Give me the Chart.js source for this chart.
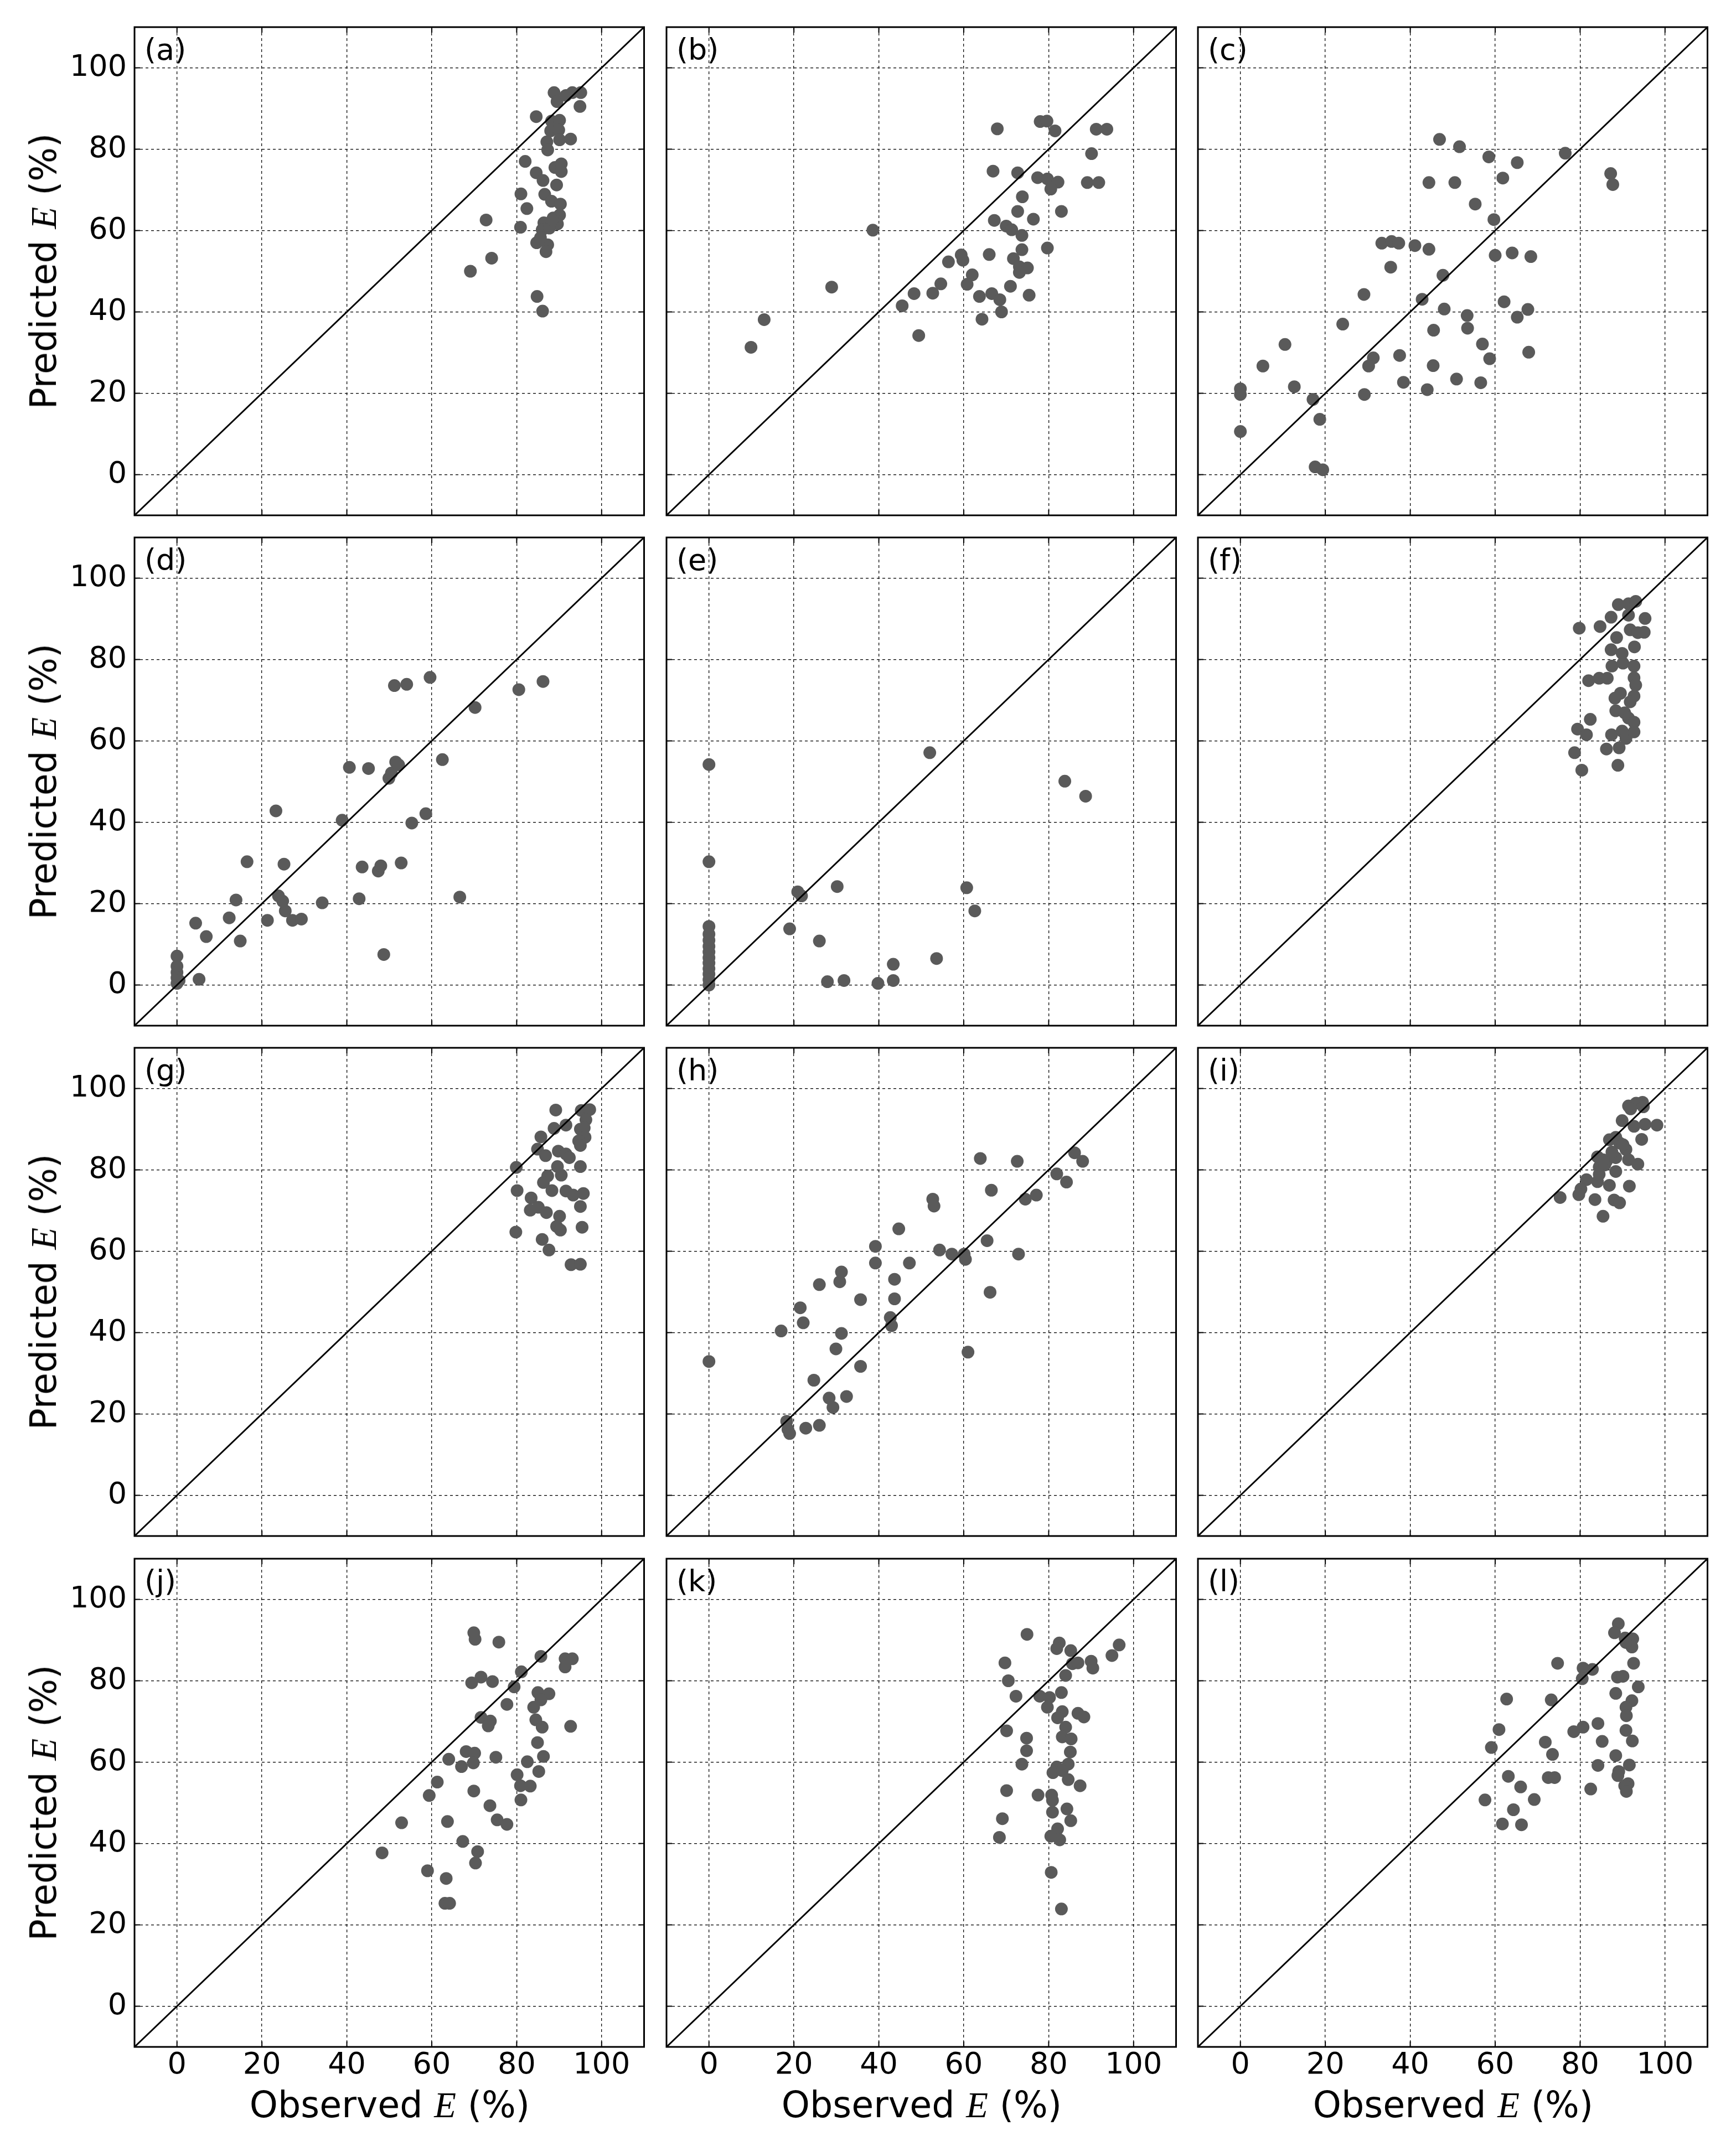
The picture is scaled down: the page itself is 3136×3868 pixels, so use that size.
<!DOCTYPE html>
<html>
<head>
<meta charset="utf-8">
<script src="https://cdn.jsdelivr.net/npm/chart.js@4.4.1/dist/chart.umd.min.js"></script>
<style>
  html, body { margin: 0; padding: 0; background: #fff; }
  body { width: 3136px; height: 3868px; position: relative; overflow: hidden; }
  canvas { position: absolute; }
  .axis-title {
    position: absolute; font-family: 'DejaVu Sans'; font-size: 65px; line-height: 1;
    white-space: nowrap; color: #000; transform: translate(-50%, -50%);
  }
  .axis-title.y { transform: translate(-50%, -50%) rotate(-90deg); }
  .axis-title i { font-family: 'Liberation Serif'; font-style: italic; }
</style>
</head>
<body>
<script>
// axis settings shared by all panels
const axisMin = -10, axisMax = 110;
const tickValues = [0, 20, 40, 60, 80, 100];
const panelLabels = ['(a)', '(b)', '(c)', '(d)', '(e)', '(f)', '(g)', '(h)', '(i)', '(j)', '(k)', '(l)'];

// observed / predicted E (%) for each panel
const obsA = [88.8, 89.5, 91.6, 93.1, 95.1, 94.9, 84.6, 88.2, 90.1, 88.0, 89.9, 87.1, 90.1, 92.7, 87.3, 82.0, 89.0, 90.5, 90.5, 84.6, 86.2, 89.4, 81.0, 86.6, 88.2, 90.3, 82.4, 90.1, 88.6, 89.6, 72.8, 80.9, 86.4, 86.0, 87.7, 84.7, 87.3, 86.9, 74.1, 69.1, 84.8, 86.1, 85.6, 88.4];
const predA = [93.9, 91.7, 93.2, 93.9, 93.9, 90.5, 88.0, 86.9, 87.1, 84.5, 84.7, 81.8, 82.3, 82.5, 79.8, 77.0, 75.5, 76.4, 74.5, 74.2, 72.3, 71.2, 69.0, 68.9, 67.2, 66.5, 65.4, 63.8, 63.1, 61.6, 62.6, 60.8, 61.9, 60.2, 60.6, 57.0, 56.5, 54.8, 53.2, 50.0, 43.8, 40.2, 58.2, 62.6];

const obsB = [67.9, 78.0, 79.6, 81.5, 91.2, 93.7, 90.1, 66.9, 72.7, 77.4, 79.7, 82.2, 80.5, 89.1, 91.8, 73.8, 72.7, 76.4, 83.0, 67.2, 70.0, 71.3, 73.7, 38.6, 79.7, 73.7, 66.0, 59.4, 59.8, 56.4, 71.7, 73.1, 75.0, 73.1, 62.0, 60.8, 54.6, 52.7, 48.3, 45.5, 71.0, 66.6, 63.7, 68.5, 75.4, 68.9, 64.3, 28.9, 49.4, 13.0, 9.9];
const predB = [85.0, 86.8, 86.9, 84.5, 84.9, 84.9, 78.9, 74.6, 74.2, 73.0, 72.7, 71.9, 70.2, 71.8, 71.8, 68.3, 64.7, 62.8, 64.7, 62.5, 61.1, 60.2, 58.8, 60.1, 55.7, 55.3, 54.1, 54.0, 52.7, 52.3, 53.1, 51.1, 50.8, 49.7, 49.1, 46.8, 46.9, 44.6, 44.5, 41.5, 46.3, 44.5, 43.8, 43.0, 44.1, 40.0, 38.2, 46.1, 34.2, 38.1, 31.3];

const obsC = [46.9, 51.6, 58.5, 65.2, 76.5, 87.2, 87.7, 44.4, 50.5, 61.8, 55.3, 59.7, 33.3, 35.6, 37.3, 41.1, 44.4, 35.4, 60.0, 64.0, 68.4, 47.7, 29.1, 42.8, 48.0, 62.1, 67.7, 65.2, 53.4, 53.5, 24.1, 45.5, 57.0, 67.9, 10.5, 5.3, 31.3, 30.2, 37.5, 58.7, 45.4, 12.7, 38.4, 50.9, 56.6, 44.0, 0, 0, 29.2, 17.1, 18.7, 0, 17.6, 19.4];
const predC = [82.4, 80.6, 78.1, 76.7, 79.0, 74.0, 71.3, 71.8, 71.8, 72.9, 66.5, 62.7, 56.9, 57.3, 56.9, 56.3, 55.4, 51.0, 53.9, 54.5, 53.6, 49.0, 44.3, 43.1, 40.7, 42.5, 40.6, 38.7, 39.1, 36.0, 37.0, 35.5, 32.1, 30.1, 32.0, 26.7, 28.7, 26.7, 29.3, 28.5, 26.8, 21.6, 22.7, 23.5, 22.6, 20.9, 21.1, 19.7, 19.7, 18.5, 13.6, 10.6, 1.9, 1.2];

const obsD = [0, 0, 0, 0, 0, 0.5, 5.2, 4.4, 6.9, 12.3, 13.9, 14.9, 16.5, 21.3, 23.3, 23.9, 24.9, 25.2, 25.5, 27.2, 29.3, 34.2, 38.9, 40.6, 42.9, 43.6, 45.1, 47.4, 48.0, 48.7, 49.9, 50.5, 51.5, 52.2, 51.2, 54.1, 52.8, 55.3, 58.6, 59.6, 62.5, 66.6, 70.2, 80.5, 86.2];
const predD = [7.1, 4.6, 3.1, 1.8, 0.4, 1.1, 1.4, 15.2, 11.9, 16.5, 20.9, 10.8, 30.3, 15.9, 42.8, 21.9, 20.6, 29.7, 18.2, 15.9, 16.2, 20.2, 40.5, 53.5, 21.2, 29.0, 53.2, 28.0, 29.3, 7.5, 50.8, 52.1, 54.8, 54.1, 73.6, 73.9, 30.0, 39.8, 42.1, 75.6, 55.4, 21.6, 68.2, 72.6, 74.6];

const obsE = [0, 0, 0, 0, 0, 0, 0, 0, 0, 0, 0, 0, 0, 19.0, 20.9, 21.8, 30.2, 26.0, 27.9, 31.8, 39.8, 43.4, 43.4, 53.6, 52.0, 60.7, 62.6, 83.8, 88.7];
const predE = [54.2, 30.3, 14.4, 12.5, 11.0, 9.5, 8.1, 6.7, 5.4, 4.0, 2.7, 1.3, 0.0, 13.8, 22.9, 21.9, 24.2, 10.8, 0.8, 1.1, 0.4, 5.1, 1.1, 6.5, 57.1, 23.9, 18.2, 50.1, 46.4];

const obsF = [89.0, 91.4, 93.1, 87.3, 91.4, 95.3, 79.8, 84.7, 91.8, 93.6, 95.1, 88.6, 92.8, 87.3, 89.9, 87.5, 90.1, 92.7, 82.0, 84.5, 86.4, 92.7, 93.1, 92.7, 89.5, 88.2, 91.8, 88.4, 90.5, 91.4, 92.7, 82.4, 79.4, 81.5, 87.4, 89.9, 90.8, 92.7, 86.2, 89.2, 78.7, 80.4, 88.9];
const predF = [93.5, 93.7, 94.3, 90.4, 90.9, 90.1, 87.7, 88.1, 87.3, 86.6, 86.7, 85.4, 83.1, 82.4, 81.5, 78.4, 79.1, 78.4, 74.8, 75.4, 75.4, 75.5, 73.7, 71.0, 71.7, 70.5, 69.6, 67.4, 66.9, 65.6, 64.6, 65.3, 62.9, 61.5, 61.5, 62.4, 60.6, 62.2, 58.0, 58.3, 57.1, 52.8, 54.0];

const obsG = [89.2, 95.2, 97.2, 96.3, 91.6, 88.8, 95.0, 95.9, 96.1, 85.7, 94.6, 95.0, 84.9, 89.8, 86.8, 91.6, 92.4, 79.9, 89.6, 95.0, 90.5, 87.3, 86.3, 88.3, 80.1, 91.6, 93.3, 95.7, 83.4, 95.0, 83.2, 85.1, 87.0, 90.1, 89.4, 90.3, 95.4, 79.8, 86.0, 87.6, 92.8, 95.0];
const predG = [94.7, 94.6, 94.8, 92.3, 91.0, 90.2, 90.0, 90.3, 88.0, 88.1, 87.1, 86.0, 85.1, 84.6, 83.5, 83.9, 83.0, 80.6, 80.8, 80.8, 78.7, 78.5, 76.9, 74.9, 74.9, 74.8, 73.8, 74.2, 73.1, 71.0, 70.1, 70.8, 69.5, 68.6, 66.1, 65.2, 65.9, 64.7, 62.9, 60.3, 56.7, 56.8];

const obsH = [0, 17.0, 18.3, 18.6, 19.0, 21.5, 22.2, 22.8, 24.7, 26.0, 26.0, 28.3, 29.2, 29.9, 30.8, 31.2, 31.2, 32.4, 35.7, 35.7, 39.2, 39.2, 42.7, 43.0, 43.7, 43.7, 44.7, 47.2, 52.7, 53.0, 54.3, 57.2, 60.1, 60.4, 61.0, 63.9, 65.5, 66.2, 66.5, 72.6, 72.9, 74.5, 77.1, 81.9, 84.2, 86.1, 88.0];
const predH = [32.9, 40.4, 18.2, 16.2, 15.2, 46.1, 42.4, 16.5, 28.3, 51.8, 17.2, 23.9, 21.6, 36.0, 52.5, 54.9, 39.8, 24.3, 31.7, 48.1, 61.2, 57.1, 43.7, 41.7, 53.1, 48.3, 65.5, 57.1, 72.8, 71.1, 60.3, 59.3, 59.3, 58.0, 35.2, 82.8, 62.6, 49.9, 75.0, 82.1, 59.3, 72.8, 73.8, 79.0, 77.0, 84.2, 82.1];

const obsI = [91.4, 93.2, 94.7, 94.9, 91.9, 89.9, 92.7, 95.3, 98.1, 94.5, 86.9, 88.4, 89.3, 90.8, 84.1, 86.2, 88.4, 91.4, 93.6, 84.5, 85.8, 88.4, 81.5, 84.1, 86.9, 91.6, 80.2, 79.7, 75.3, 83.5, 88.0, 89.3, 85.4, 85.4, 87.5, 84.5, 90.1];
const predI = [95.7, 96.4, 96.6, 95.5, 95.0, 92.1, 90.7, 91.2, 91.0, 87.5, 87.4, 88.0, 86.6, 85.0, 83.2, 82.1, 83.0, 82.5, 81.4, 80.7, 81.2, 79.6, 77.6, 77.1, 76.2, 76.0, 75.3, 73.9, 73.2, 72.7, 72.6, 71.9, 68.6, 82.5, 84.4, 78.9, 86.2];

const obsJ = [69.9, 70.2, 75.8, 85.7, 91.4, 93.1, 91.4, 81.1, 69.4, 71.6, 74.3, 79.4, 85.0, 87.6, 85.7, 84.0, 77.7, 71.6, 73.8, 73.3, 84.5, 86.0, 92.7, 84.9, 68.1, 70.1, 75.1, 64.0, 69.8, 67.0, 86.3, 82.5, 85.2, 80.1, 80.9, 83.2, 81.0, 61.3, 59.4, 69.9, 73.7, 75.4, 77.7, 52.9, 63.7, 67.3, 70.8, 70.3, 48.3, 59.0, 63.4, 63.1, 64.2];
const predJ = [91.8, 90.2, 89.5, 86.0, 85.4, 85.4, 83.4, 82.2, 79.5, 80.9, 79.8, 78.5, 77.1, 76.8, 75.3, 73.5, 74.2, 71.0, 70.1, 68.9, 70.4, 68.6, 68.8, 64.8, 62.6, 62.2, 61.2, 60.7, 59.8, 58.9, 61.4, 60.1, 57.7, 56.9, 54.2, 54.1, 50.7, 55.1, 51.8, 52.9, 49.3, 45.8, 44.7, 45.1, 45.4, 40.5, 38.0, 35.2, 37.7, 33.3, 31.4, 25.3, 25.3];

const obsK = [74.9, 82.5, 81.9, 85.2, 96.6, 94.9, 69.7, 85.6, 86.9, 90.0, 90.4, 84.0, 70.5, 72.3, 77.9, 80.2, 83.0, 79.7, 83.2, 82.1, 86.9, 88.3, 70.1, 74.8, 74.8, 73.7, 84.0, 83.2, 85.3, 85.1, 84.6, 81.9, 81.0, 83.2, 84.6, 87.4, 70.1, 77.5, 80.7, 80.9, 80.9, 84.3, 85.2, 69.1, 82.1, 80.5, 82.6, 68.4, 80.6, 83.0];
const predK = [91.4, 89.3, 87.9, 87.4, 88.8, 86.2, 84.4, 84.2, 84.4, 84.8, 83.1, 81.3, 80.0, 76.2, 76.2, 75.9, 77.1, 73.5, 72.4, 70.9, 72.0, 71.1, 67.7, 65.9, 62.8, 59.5, 68.6, 66.2, 65.7, 62.5, 59.5, 58.8, 57.4, 57.9, 55.7, 54.2, 53.0, 51.9, 51.9, 50.6, 47.7, 48.5, 45.6, 46.1, 43.6, 41.8, 40.9, 41.5, 32.9, 23.9];

const obsL = [89.0, 88.1, 90.6, 92.4, 92.2, 90.8, 92.6, 74.7, 80.7, 82.9, 80.5, 88.8, 90.1, 93.7, 88.4, 62.7, 73.2, 92.2, 90.8, 90.9, 84.2, 80.7, 78.5, 60.9, 90.8, 92.3, 85.2, 71.8, 59.1, 73.5, 88.4, 91.6, 84.2, 89.1, 88.9, 63.1, 72.5, 74.0, 91.3, 90.5, 90.9, 66.0, 82.5, 57.6, 69.2, 64.3, 61.7, 66.2];
const predL = [94.0, 91.8, 90.5, 90.3, 88.3, 89.4, 84.3, 84.3, 83.1, 82.8, 80.5, 80.9, 81.1, 78.5, 76.9, 75.5, 75.3, 75.1, 73.5, 71.4, 69.5, 68.6, 67.5, 68.0, 67.8, 65.2, 65.1, 64.9, 63.6, 61.9, 61.6, 59.3, 59.2, 57.7, 56.7, 56.5, 56.2, 56.2, 54.7, 54.2, 52.8, 53.9, 53.4, 50.7, 50.8, 48.3, 44.8, 44.6];

const panelObs = [obsA, obsB, obsC, obsD, obsE, obsF, obsG, obsH, obsI, obsJ, obsK, obsL];
const panelPred = [predA, predB, predC, predD, predE, predF, predG, predH, predI, predJ, predK, predL];

// page layout (pixels of the plot boxes)
const colLeft = [243, 1204, 2164];
const rowTop = [49, 971, 1893, 2816];
const plotW = 922, plotH = 882;

// frame, inward tick marks and panel letter
const framePlugin = {
    id: 'frame',
    afterDatasetsDraw: function(chart, args, opts) {
        var ctx = chart.ctx, a = chart.chartArea;
        var sx = chart.scales.x, sy = chart.scales.y;
        ctx.save();
        ctx.strokeStyle = '#000';
        ctx.lineWidth = 2;
        tickValues.forEach(function(v) {
            var px = sx.getPixelForValue(v), py = sy.getPixelForValue(v);
            ctx.beginPath();
            ctx.moveTo(px, a.bottom); ctx.lineTo(px, a.bottom - 10);
            ctx.moveTo(px, a.top); ctx.lineTo(px, a.top + 10);
            ctx.moveTo(a.left, py); ctx.lineTo(a.left + 10, py);
            ctx.moveTo(a.right, py); ctx.lineTo(a.right - 10, py);
            ctx.stroke();
        });
        ctx.lineWidth = 3;
        ctx.strokeRect(a.left, a.top, a.right - a.left, a.bottom - a.top);
        ctx.font = '54px "DejaVu Sans"';
        ctx.fillStyle = '#000';
        ctx.textBaseline = 'alphabetic';
        ctx.fillText(opts.label, a.left + 18, a.top + 59);
        ctx.restore();
    }
};

const diagEnds = [axisMin, axisMax];

panelLabels.forEach(function(label, i) {
    var row = Math.floor(i / 3), col = i % 3;
    var padL = col === 0 ? 130 : 20;
    var padB = row === 3 ? 75 : 20;
    var padT = 20, padR = 10;

    var canvas = document.createElement('canvas');
    canvas.width = padL + plotW + padR;
    canvas.height = padT + plotH + padB;
    canvas.style.left = (colLeft[col] - padL) + 'px';
    canvas.style.top = (rowTop[row] - padT) + 'px';
    document.body.appendChild(canvas);

    var obs = panelObs[i], pred = panelPred[i];

    new Chart(canvas.getContext('2d'), {
        type: 'scatter',
        data: {
            datasets: [{
                data: obs.map(function(x, k) { return {x: x, y: pred[k]}; }),
                backgroundColor: '#5a5a5a',
                borderWidth: 0,
                pointRadius: 11.5,
                pointHoverRadius: 11.5,
                order: 1
            }, {
                data: diagEnds.map(function(v) { return {x: v, y: v}; }),
                showLine: true,
                borderColor: '#000',
                borderWidth: 3,
                pointRadius: 0,
                order: 0
            }]
        },
        options: {
            responsive: false,
            animation: false,
            events: [],
            layout: { padding: { top: padT, right: padR, bottom: 0, left: 0 } },
            plugins: {
                legend: { display: false },
                tooltip: { enabled: false },
                frame: { label: label }
            },
            scales: {
                x: {
                    type: 'linear', min: axisMin, max: axisMax,
                    afterBuildTicks: function(s) { s.ticks = tickValues.map(function(v) { return {value: v}; }); },
                    afterFit: function(s) { s.height = padB; s.paddingLeft = 0; s.paddingRight = 0; },
                    grid: { color: '#000', lineWidth: 1.3, drawTicks: false },
                    border: { display: false, dash: [5, 5] },
                    ticks: { display: row === 3, color: '#000', padding: 2, maxRotation: 0,
                             font: { family: 'DejaVu Sans', size: 54 } }
                },
                y: {
                    type: 'linear', min: axisMin, max: axisMax,
                    afterBuildTicks: function(s) { s.ticks = tickValues.map(function(v) { return {value: v}; }); },
                    // labels never reach the ends of the axis, so no extra padding
                    afterFit: function(s) { s.width = padL; s.paddingTop = 0; s.paddingBottom = 0; },
                    grid: { color: '#000', lineWidth: 1.3, drawTicks: false },
                    border: { display: false, dash: [5, 5] },
                    ticks: { display: col === 0, color: '#000', padding: 14,
                             font: { family: 'DejaVu Sans', size: 54 } }
                }
            }
        },
        plugins: [framePlugin]
    });
});

// axis titles
colLeft.forEach(function(left) {
    var d = document.createElement('div');
    d.className = 'axis-title';
    d.innerHTML = 'Observed <i>E</i> (%)';
    d.style.left = (left + plotW / 2) + 'px';
    d.style.top = '3803px';
    document.body.appendChild(d);
});
rowTop.forEach(function(top) {
    var d = document.createElement('div');
    d.className = 'axis-title y';
    d.innerHTML = 'Predicted <i>E</i> (%)';
    d.style.left = '79px';
    d.style.top = (top + plotH / 2) + 'px';
    document.body.appendChild(d);
});
</script>
</body>
</html>
